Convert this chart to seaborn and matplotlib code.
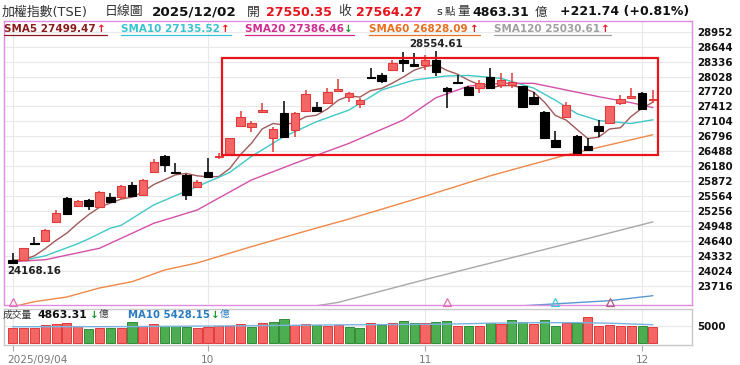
import matplotlib
matplotlib.use("Agg")
import matplotlib.pyplot as plt
import matplotlib.transforms as mtransforms
from matplotlib.patches import Rectangle
from matplotlib.lines import Line2D
import numpy as np
import seaborn as sns

sns.set_theme(style="white")
plt.rcParams['font.family'] = ['DejaVu Sans', 'Noto Sans CJK TC']

# ---- daily candles, 2025/09/04 .. 2025/12/02 ----
opens = [24244, 24244, 24601, 24643, 25022, 25517, 25364, 25481, 25344, 25550,
         25550, 25791, 25585, 26065, 26389, 26055, 25997, 25756, 26065, 26370,
         26410, 27014, 26993, 27310, 26766, 27282, 26925, 27323, 27406, 27476,
         27736, 27600, 27461, 28012, 28059, 28162, 28368, 28275, 28265, 28368,
         27785, 27915, 27818, 27785, 28012, 27853, 27853, 27827, 27600, 27303,
         26719, 27200, 26807, 26595, 27008, 27076, 27488, 27578, 27682, 27550.35]
highs = [24389, 24500, 24725, 24884, 25275, 25550, 25480, 25500, 25667, 25632,
         25790, 25859, 25910, 26321, 26400, 26251, 26010, 25893, 26342, 26457,
         26770, 27317, 27110, 27476, 26980, 27523, 27290, 27750, 27509, 27785,
         27970, 27715, 27591, 28197, 28094, 28368, 28540, 28506, 28472, 28554.61,
         27818, 28059, 27830, 27956, 28197, 28094, 28094, 27840, 27715, 27310,
         26905, 27509, 26820, 26754, 27131, 27430, 27647, 27798, 27715, 27750]
lows = [24168.16, 24230, 24560, 24630, 25010, 25172, 25350, 25275, 25330, 25426,
        25496, 25560, 25570, 26045, 26065, 26035, 25482, 25740, 25950, 26321,
        26400, 27000, 26890, 27269, 26465, 26754, 26775, 27310, 27300, 27460,
        27730, 27509, 27385, 27985, 27888, 28150, 28127, 28250, 28162, 28039,
        27373, 27895, 27626, 27682, 27790, 27785, 27785, 27400, 27440, 26760,
        26570, 27190, 26430, 26492, 26787, 27060, 27440, 27570, 27340, 27476]
closes = [24190, 24486, 24568, 24863, 25207, 25193, 25467, 25364, 25641, 25447,
          25770, 25570, 25893, 26271, 26203, 26045, 25585, 25859, 25962, 26389,
          26754, 27200, 27076, 27325, 26939, 26775, 27282, 27667, 27317, 27715,
          27764, 27682, 27544, 27991, 27935, 28313, 28300, 28255, 28368, 28115,
          27736, 27900, 27647, 27888, 27798, 27956, 27921, 27406, 27455, 26766,
          26581, 27440, 26445, 26513, 26911, 27420, 27564, 27626, 27352, 27564.27]

# volume (億) and bar colour (r = up, g = down)
volumes = [4560, 4560, 4560, 5260, 5550, 6020, 5050, 4270, 4560, 4380,
           4560, 6310, 5050, 5550, 5050, 5050, 4760, 4560, 4850, 5050,
           5050, 5730, 4850, 6020, 6220, 7190, 5260, 5730, 5430, 4970,
           5350, 4850, 4380, 5840, 5430, 6020, 6430, 5840, 6020, 6120,
           6430, 5140, 5050, 5050, 6030, 5640, 6810, 6140, 5640, 6720,
           5150, 6030, 5840, 7600, 5050, 5350, 5150, 5050, 5050, 4863.31]
vol_dir = list("rrrrrrrgrgrgrrgggrrr" "rrgrggrrgrrggrgrggrg" "grgrgrggrggrgrrrrrgr")

# moving averages
sma5 = [24240, 24250, 24330, 24480, 24650, 24800, 25000, 25180, 25330, 25420,
        25500, 25540, 25650, 25800, 25900, 26000, 26030, 25980, 25960, 25965,
        26130, 26420, 26650, 26949, 27059, 27029, 27080, 27199, 27230, 27360,
        27540, 27629, 27604, 27739, 27783, 27893, 28017, 28159, 28234, 28270,
        28155, 28075, 27953, 27857, 27794, 27838, 27842, 27794, 27707, 27501,
        27226, 27130, 26937, 26749, 26778, 26946, 26971, 27207, 27375, 27499.47]
sma10_idx = [1, 3, 6, 7, 9, 10, 13, 15, 17, 19, 20, 22, 25, 28, 31, 34, 37, 40, 42, 45, 48, 50, 52, 54, 57, 59]
sma10 = [24240, 24330, 24580, 24680, 24900, 24960, 25380, 25570, 25760, 25950, 26050, 26380, 26790,
         27096, 27338, 27750, 27956, 28040, 28050, 27990, 27790, 27540, 27260, 27120, 27060, 27135.52]
sma20_idx = [0, 3, 8, 13, 17, 22, 26, 31, 36, 39, 42, 45, 48, 51, 54, 57, 59]
sma20 = [24210, 24250, 24486, 25001, 25275, 25894, 26238, 26651, 27131, 27590, 27830, 27888,
         27888, 27750, 27612, 27488, 27386.46]
sma60_idx = [0, 2, 5, 8, 11, 14, 17, 22, 27, 31, 38, 44, 51, 59]
sma60 = [23280, 23385, 23481, 23667, 23797, 24038, 24183, 24519, 24840, 25090, 25560, 25980,
         26410, 26828.09]
sma120_idx = [26, 30, 38, 45, 52, 59]
sma120 = [23230, 23370, 23840, 24235, 24630, 25030.61]
line240_idx = [47, 55, 59]
line240 = [23300, 23405, 23508]
vma10_idx = [0, 10, 20, 30, 40, 44, 48, 52, 55, 59]
vma10 = [4850, 4880, 5100, 5400, 5600, 5900, 6030, 6050, 5900, 5428.15]

signal_idx = [0, 40, 50, 55]
signal_col = ['#e070b0', '#e070b0', '#40c8d0', '#b06080']

month_idx = [0, 18, 38, 58]
month_lbl = ["2025/09/04", "10", "11", "12"]
price_ticks = [28952, 28644, 28336, 28028, 27720, 27412, 27104, 26796, 26488,
               26180, 25872, 25564, 25256, 24948, 24640, 24332, 24024, 23716]

RED, RED_E = '#f46666', '#e23a3a'
GRN, GRN_E = '#4cae50', '#2f8c38'

W, H = 740, 365
fig = plt.figure(figsize=(W / 100, H / 100), dpi=100)
fig.patch.set_facecolor('white')


def fx(px):
    return px / W


def fy(py):
    return 1 - py / H


ax = fig.add_axes([fx(4), fy(305), 688 / W, 284 / H])
axv = fig.add_axes([fx(4), fy(345), 688 / W, 36 / H])

# ---- price panel ----
x = np.arange(len(closes))
o, c = np.array(opens), np.array(closes)
hi, lo = np.array(highs), np.array(lows)
up = c >= o
body = np.maximum(np.abs(c - o), 24)
bottom = np.minimum(o, c) - (body - np.abs(c - o)) / 2

ax.vlines(x[up], lo[up], hi[up], color=RED_E, lw=1.1, zorder=3)
ax.vlines(x[~up], lo[~up], hi[~up], color='black', lw=1.1, zorder=3)
ax.bar(x[up], body[up], bottom=bottom[up], width=0.78, color=RED, edgecolor=RED_E, lw=0.8, zorder=4)
ax.bar(x[~up], body[~up], bottom=bottom[~up], width=0.78, color='black', edgecolor='black', lw=0.8, zorder=4)

line_kw = dict(ax=ax, estimator=None, sort=False, legend=False, zorder=2)
sns.lineplot(x=x, y=sma5, color='#a05a5a', lw=1, **line_kw)
sns.lineplot(x=sma10_idx, y=sma10, color='#40c8c8', lw=1, **line_kw)
sns.lineplot(x=sma20_idx, y=sma20, color='#d450a8', lw=1, **line_kw)
sns.lineplot(x=sma60_idx, y=sma60, color='#f08848', lw=1, **line_kw)
sns.lineplot(x=sma120_idx, y=sma120, color='#a8a8a8', lw=1, **line_kw)
sns.lineplot(x=line240_idx, y=line240, color='#5a98d0', lw=1, **line_kw)

trans = mtransforms.blended_transform_factory(ax.transData, ax.transAxes)
for i, col in zip(signal_idx, signal_col):
    ax.plot(i, 0.012, marker='^', ms=6, mfc='none', mec=col, mew=0.9, transform=trans,
            clip_on=False, zorder=5)

ax.add_patch(Rectangle((19.3, 26410), 40.2, 2000, fill=False, edgecolor='#e8141c', lw=1.6, zorder=6))

imax = int(np.argmax(hi))
ax.annotate(f"{hi[imax]:.2f}", (imax, hi[imax]), xytext=(0, 1.5), textcoords='offset points',
            ha='center', va='bottom', fontsize=7.4, fontweight='bold', color='#222')
imin = int(np.argmin(lo))
ax.annotate(f"{lo[imin]:.2f}", (imin, lo[imin]), xytext=(-4, -1.5), textcoords='offset points',
            ha='left', va='top', fontsize=7.4, fontweight='bold', color='#222')

ax.set_xlim(-0.8, 62.6)
ax.set_ylim(23316, 29173)
ax.set_yticks(price_ticks)
ax.yaxis.tick_right()
ax.tick_params(axis='y', length=0, pad=4, labelsize=7.4, labelcolor='#111')
for t in ax.get_yticklabels():
    t.set_fontweight('bold')
ax.set_xticks(month_idx)
ax.tick_params(axis='x', bottom=False, labelbottom=False)
ax.grid(True, color='#e8e8e8', lw=0.8)
ax.set_axisbelow(True)
ax.set_xlabel('')
ax.set_ylabel('')
for s in ax.spines.values():
    s.set_color('#e08ae0')
    s.set_linewidth(1)

# ---- volume panel ----
sns.barplot(x=x, y=volumes, hue=vol_dir, palette={'r': RED, 'g': GRN}, native_scale=True,
            dodge=False, width=0.84, saturation=1, legend=False, ax=axv, zorder=3)
for p in axv.patches:
    fc = p.get_facecolor()
    p.set_edgecolor(RED_E if fc[0] > 0.8 else GRN_E)
    p.set_linewidth(0.7)
sns.lineplot(x=vma10_idx, y=vma10, color='#7ab4e0', lw=1, ax=axv, estimator=None, legend=False, zorder=4)
axv.set_xlim(-0.8, 62.6)
axv.set_ylim(-500, 10050)
axv.set_yticks([5000])
axv.yaxis.tick_right()
axv.tick_params(axis='y', length=0, pad=4, labelsize=7.4, labelcolor='#111')
for t in axv.get_yticklabels():
    t.set_fontweight('bold')
axv.set_xticks(month_idx)
axv.set_xticklabels(month_lbl)
axv.tick_params(axis='x', bottom=True, length=4, width=0.8, color='#aaaaaa', pad=3,
                labelsize=7.6, labelcolor='#777777')
first = axv.get_xticklabels()[0]
first.set_ha('left')
first.set_transform(first.get_transform() + mtransforms.ScaledTranslation(-0.055, 0, fig.dpi_scale_trans))
axv.grid(True, color='#e8e8e8', lw=0.8)
axv.set_axisbelow(True)
axv.set_xlabel('')
axv.set_ylabel('')
for s in axv.spines.values():
    s.set_color('#c8c8c8')
    s.set_linewidth(1)


# ---- header texts ----
def put(px, py, s, color='#222', size=9, weight='normal'):
    fig.text(fx(px), fy(py), s, color=color, fontsize=size, fontweight=weight, va='center', ha='left')


put(2, 12, "加權指數(TSE)", '#333', 9.3)
put(105, 12, "日線圖", '#333', 9.3)
put(152, 12, "2025/12/02", '#111', 9.7, 'bold')
put(247, 12, "開", '#333', 9.3)
put(266, 12, f"{opens[-1]:.2f}", '#e8141c', 9, 'bold')
put(338, 12, "收", '#333', 9.3)
put(356, 12, f"{closes[-1]:.2f}", '#e8141c', 9, 'bold')
put(436, 12, "s", '#222', 8)
put(445, 12, "點", '#333', 7.5)
put(457, 12, "量", '#333', 9)
put(472, 12, f"{volumes[-1]:.2f}", '#111', 9, 'bold')
put(535, 12, "億", '#333', 9)
put(560, 12, "+221.74 (+0.81%)", '#111', 9, 'bold')

legend_items = [
    (4, "SMA5 27499.47", '#8c1c1c', "↑", '#e8141c', 107),
    (121, "SMA10 27135.52", '#38c4d0', "↑", '#e8141c', 231),
    (245, "SMA20 27386.46", '#d02c90', "↓", '#1a9a30', 354),
    (369, "SMA60 26828.09", '#e87020', "↑", '#e8141c', 480),
    (494, "SMA120 25030.61", '#a0a0a0', "↑", '#e8141c', 611),
]
for lx, s, col, arr, acol, ux in legend_items:
    put(lx, 28.5, s, col, 7.5, 'bold')
    put(ux - 10, 28.5, arr, acol, 7.5, 'bold')
    fig.add_artist(Line2D([fx(lx), fx(ux)], [fy(34.5), fy(34.5)], color=col, lw=0.9))

put(3, 315, "成交量", '#333', 7)
put(38, 315, f"{volumes[-1]:.2f}", '#111', 7.8, 'bold')
put(90, 315, "↓", '#1a9a30', 7.5, 'bold')
put(99, 315, "億", '#333', 7)
put(128, 315, "MA10 5428.15", '#2a7cc0', 7.3, 'bold')
put(211, 315, "↓", '#1a9a30', 7.5, 'bold')
put(220, 315, "億", '#2a7cc0', 7)

fig.savefig("out.png", dpi=100, facecolor='white')
